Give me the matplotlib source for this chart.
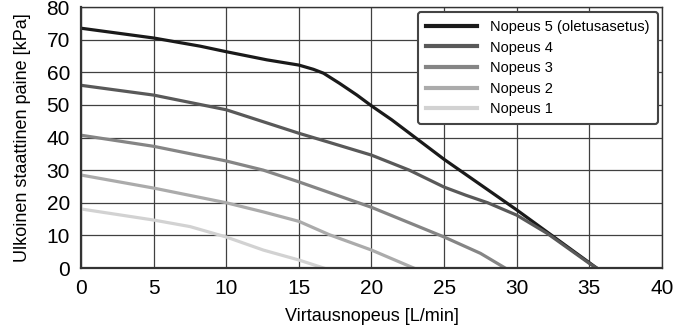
import numpy as np
import matplotlib
matplotlib.use("Agg")
import matplotlib.pyplot as plt

plt.rcParams["font.family"] = ["Liberation Sans", "DejaVu Sans"]

# Pump curves (flow L/min, pressure kPa)
x5 = [0, 5, 8.2, 10, 12.8, 15, 16, 16.7, 17.8, 19, 20, 21.4, 25, 30, 35.5]
y5 = [73.5, 70.5, 68, 66.3, 63.8, 62.2, 60.9, 59.7, 56.6, 53, 49.7, 45.4, 33.3, 17.8, 0]
x4 = [0, 5, 10, 15, 17.1, 20, 22.6, 25, 26.5, 28, 30, 32.1, 35, 35.5]
y4 = [56, 53, 48.5, 41.3, 38.5, 34.6, 30, 24.8, 22.3, 20, 16.2, 10.6, 1.4, 0]
x3 = [0, 5, 10, 12.55, 15, 20, 25, 27.5, 29.2]
y3 = [40.7, 37.3, 32.8, 30, 26.4, 18.6, 9.5, 4.5, 0]
x2 = [0, 5, 10, 12.55, 15, 17.1, 20, 22.9]
y2 = [28.5, 24.5, 20, 17.2, 14.3, 10.2, 5.5, 0]
x1 = [0, 5, 7.5, 10, 12.55, 15, 16.7]
y1 = [18.1, 14.7, 12.7, 9.5, 5.5, 2.45, 0]

labels = ["Nopeus 5 (oletusasetus)", "Nopeus 4", "Nopeus 3", "Nopeus 2", "Nopeus 1"]
colors = ["#1a1a1a", "#595959", "#858585", "#ababab", "#d2d2d2"]

fig = plt.figure(figsize=(6.87, 3.29), dpi=100)
ax = fig.add_axes([0.1179, 0.1854, 0.8457, 0.7933])

for xs, ys, lab, c in zip([x5, x4, x3, x2, x1], [y5, y4, y3, y2, y1], labels, colors):
    ax.plot(xs, ys, color=c, lw=2.3, label=lab, solid_joinstyle="round")

ax.set_xlim(0, 40)
ax.set_ylim(0, 80)
ax.set_xticks(np.arange(0, 41, 5))
ax.set_yticks(np.arange(0, 81, 10))
ax.grid(True, color="#404040", lw=0.9)
ax.set_axisbelow(True)
ax.tick_params(length=0, labelsize=15, pad=8)
for s in ax.spines.values():
    s.set_color("#333333")
    s.set_linewidth(1.0)
ax.spines["left"].set_linewidth(1.6)
ax.spines["bottom"].set_linewidth(1.6)

ax.set_xlabel("Virtausnopeus [L/min]", fontsize=13, labelpad=7)
ax.set_ylabel("Ulkoinen staattinen paine [kPa]", fontsize=13, labelpad=11)

leg = ax.legend(loc="upper right", bbox_to_anchor=(0.993, 0.981), borderaxespad=0,
                fontsize=10.5, handlelength=3.5, handletextpad=0.9, labelspacing=0.45,
                borderpad=0.55, fancybox=True, framealpha=1)
leg.get_frame().set_edgecolor("#444444")
leg.get_frame().set_linewidth(1.5)
for line in leg.get_lines():
    line.set_linewidth(3)

fig.savefig("out.png", dpi=100)
